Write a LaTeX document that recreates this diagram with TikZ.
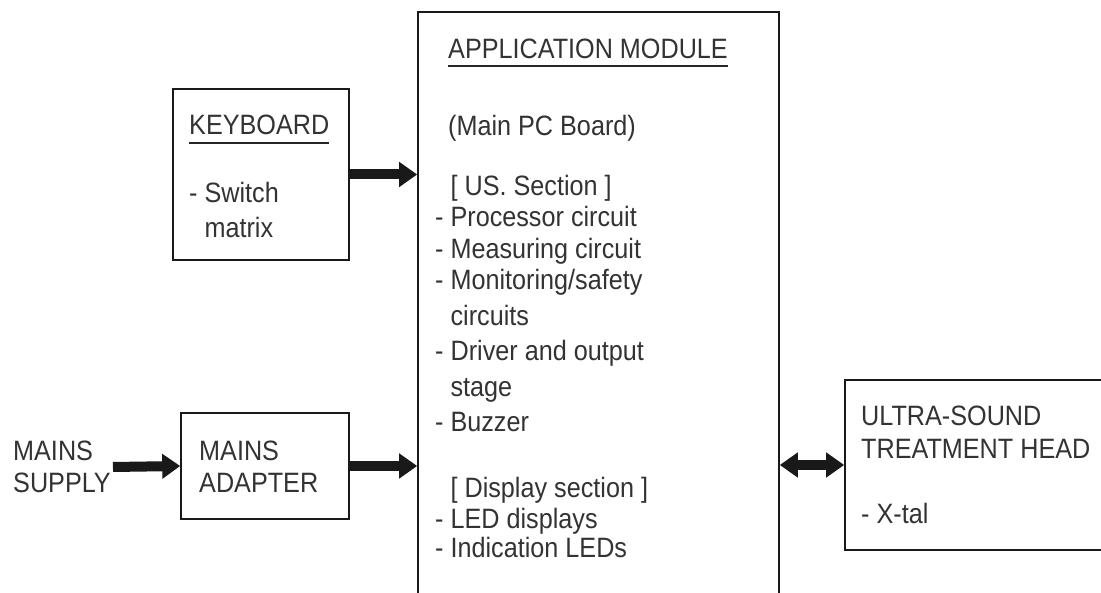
\documentclass[tikz,border=0pt]{standalone}
\usepackage{fontspec}
\setmainfont{Liberation Sans}[FakeStretch=0.9]
\usetikzlibrary{arrows.meta}
\begin{document}
\begin{tikzpicture}[x=1pt,y=-1pt,
  box/.style={draw=black!90, line width=1.6pt, inner sep=0pt},
  txt/.style={inner sep=0pt, anchor=base west, text=black!80, font=\fontsize{28}{32}\selectfont},
  txtml/.style={inner sep=0pt, anchor=west, align=left, text=black!80, font=\fontsize{28}{32}\selectfont},
  uline/.style={line width=1.5pt, black!85},
  fat/.style={line width=10pt, black!90, -{Triangle[length=18pt,width=24pt]}},
  fatboth/.style={line width=10pt, black!90, {Triangle[length=18pt,width=24pt]}-{Triangle[length=18pt,width=24pt]}}
  ]
\useasboundingbox (0,0) rectangle (1101,593);
\clip (0,0) rectangle (1101,593);
\fill[white] (0,0) rectangle (1101,593);

% boxes
\node[box, minimum width=176pt, minimum height=171pt] (kb) at (261,174.5) {};
\node[box, minimum width=168pt, minimum height=106pt] (adapter) at (265,466) {};
\node[box, minimum width=361pt, minimum height=640pt] (app) at (598.5,332) {};
\node[box, minimum width=280pt, minimum height=170pt] (head) at (985,465) {};

% keyboard text
\node[txt] (kbtitle) at (189,135) {KEYBOARD};
\draw[uline] ([yshift=-8pt]kbtitle.base west) -- ([yshift=-8pt]kbtitle.base east);
\node[txt] (kb1) at (189,203) {- Switch};
\node[txt] (kb2) at (189,238) {\hphantom{- }matrix};

% mains
\node[txtml] (supply) at (13,467) {MAINS\\SUPPLY};
\node[txtml] (adtext) at (199,467) {MAINS\\ADAPTER};

% application module text
\node[txt] (apptitle) at (448,59) {APPLICATION MODULE};
\draw[uline] ([yshift=-7pt]apptitle.base west) -- ([yshift=-7pt]apptitle.base east);
\node[txt] (a0) at (448,136) {(Main PC Board)};
\node[txt] (a1) at (435,196) {\hphantom{- }[ US. Section ]};
\node[txt] (a2) at (435,227) {- Processor circuit};
\node[txt] (a3) at (435,258.5) {- Measuring circuit};
\node[txt] (a4) at (435,290) {- Monitoring/safety};
\node[txt] (a5) at (435,325.5) {\hphantom{- }circuits};
\node[txt] (a6) at (435,361) {- Driver and output};
\node[txt] (a7) at (435,396.5) {\hphantom{- }stage};
\node[txt] (a8) at (435,432) {- Buzzer};
\node[txt] (a9) at (435,497) {\hphantom{- }[ Display section ]};
\node[txt] (a10) at (435,528) {- LED displays};
\node[txt] (a11) at (435,558) {- Indication LEDs};

% treatment head text
\node[txt] (h1) at (861,426) {ULTRA-SOUND};
\node[txt] (h2) at (861,459) {TREATMENT HEAD};
\node[txt] (h3) at (861,523) {- X-tal};

% arrows
\draw[fat] (kb.east) -- (kb.east -| app.west);
\draw[fat] ([xshift=2pt]supply.east) -- (adapter.west);
\draw[fat] (adapter.east) -- (adapter.east -| app.west);
\draw[fatboth] (head.west -| app.east) -- (head.west);
\end{tikzpicture}
\end{document}
